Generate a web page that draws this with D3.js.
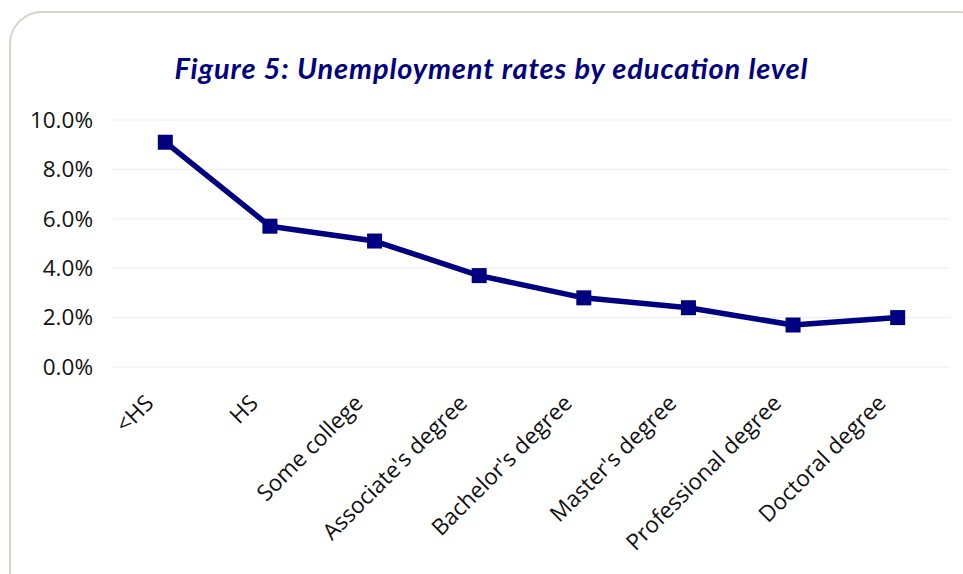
<!DOCTYPE html>
<html>
<head>
<meta charset="utf-8">
<script src="https://cdn.jsdelivr.net/npm/d3@7"></script>
<style>
	body { margin: 0; background: #fff; }
</style>
</head>
<body>
<div id="chart"></div>
<script>
// data
const levels = ["<HS", "HS", "Some college", "Associate's degree", "Bachelor's degree", "Master's degree", "Professional degree", "Doctoral degree"];
const rates = [9.1, 5.7, 5.1, 3.7, 2.8, 2.4, 1.7, 2.0];
const yTicks = [0, 2, 4, 6, 8, 10];

const width = 963;
const height = 574;
const navy = "#000080";

const svg = d3.select("#chart")
	.append("svg")
	.attr("width", width)
	.attr("height", height);

// frame
svg.append("rect")
	.attr("x", 10)
	.attr("y", 12)
	.attr("width", 980)
	.attr("height", 600)
	.attr("rx", 32)
	.attr("fill", "#fff")
	.attr("stroke", "#d6d4c8")
	.attr("stroke-width", 2);

// title
svg.append("text")
	.attr("x", 491)
	.attr("y", 79)
	.attr("text-anchor", "middle")
	.attr("font-family", "Lato, sans-serif")
	.attr("font-style", "italic")
	.attr("font-weight", "bold")
	.attr("font-size", 29)
	.attr("textLength", 633)
	.attr("lengthAdjust", "spacing")
	.attr("fill", navy)
	.text("Figure 5: Unemployment rates by education level");

const x = d3.scaleBand()
	.domain(levels)
	.range([113, 950]);

const y = d3.scaleLinear()
	.domain([0, 10])
	.range([367, 120]);

// gridlines
svg.append("g")
	.selectAll("line")
	.data(yTicks)
	.enter()
	.append("line")
	.attr("x1", 113)
	.attr("x2", 950)
	.attr("y1", (d) => y(d))
	.attr("y2", (d) => y(d))
	.attr("stroke", "#ececec")
	.attr("stroke-width", 1);

// y axis labels
const yAxis = svg.append("g")
	.attr("transform", "translate(93,0)")
	.call(d3.axisLeft(y).tickValues(yTicks).tickSize(0).tickPadding(0).tickFormat((d) => d.toFixed(1) + "%"));
yAxis.select(".domain").remove();
yAxis.selectAll("text")
	.attr("font-family", "'Open Sans', sans-serif")
	.attr("font-size", 22.5)
	.attr("fill", "#111");

// x axis labels
const xAxis = svg.append("g")
	.attr("transform", "translate(0,383)")
	.call(d3.axisBottom(x).tickSize(0).tickPadding(0));
xAxis.select(".domain").remove();
xAxis.selectAll("text")
	.attr("font-family", "'Open Sans', sans-serif")
	.attr("font-size", 22.5)
	.attr("fill", "#111")
	.attr("text-anchor", "end")
	.attr("y", 0)
	.attr("dy", "0.35em")
	.attr("transform", "translate(-16,16) rotate(-45)");

// line
const line = d3.line()
	.x((d, i) => x(levels[i]) + x.bandwidth() / 2)
	.y((d) => y(d));

svg.append("path")
	.datum(rates)
	.attr("d", line)
	.attr("fill", "none")
	.attr("stroke", navy)
	.attr("stroke-width", 5.5)
	.attr("stroke-linejoin", "round");

// markers
const size = 15;
svg.append("g")
	.selectAll("rect")
	.data(rates)
	.enter()
	.append("rect")
	.attr("x", (d, i) => x(levels[i]) + x.bandwidth() / 2 - size / 2)
	.attr("y", (d) => y(d) - size / 2)
	.attr("width", size)
	.attr("height", size)
	.attr("fill", navy);
</script>
</body>
</html>
